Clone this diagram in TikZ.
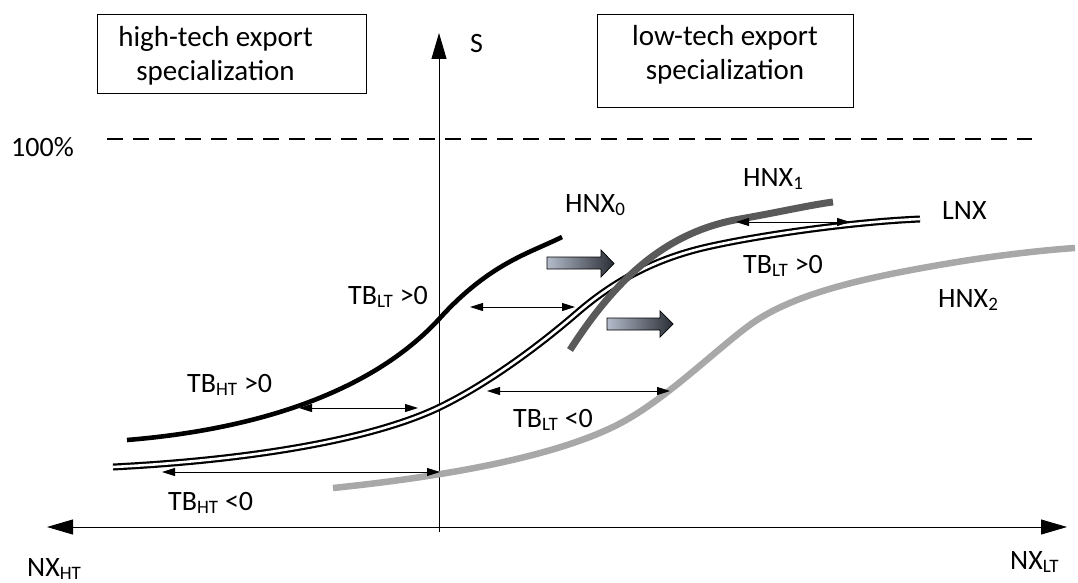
\documentclass[tikz,border=0pt]{standalone}
\usepackage{fontspec}
\setmainfont{Carlito}
\usetikzlibrary{arrows.meta}
\definecolor{darkg}{HTML}{5A5A5A}
\definecolor{lightg}{HTML}{A8A8A8}
\definecolor{arrdark}{HTML}{2A2E36}
\definecolor{arrlight}{HTML}{B4BCCB}
\tikzset{
  lbl/.style={font=\fontsize{28}{32}\selectfont, inner sep=0pt, anchor=base west},
  boxtext/.style={font=\fontsize{29}{34}\selectfont, align=center, inner sep=0pt},
  boxrect/.style={draw, line width=0.8pt},
  twoway/.style={line width=0.9pt, {Triangle[length=13pt,width=8pt]}-{Triangle[length=13pt,width=8pt]}},
  axis/.style={line width=0.9pt},
  axtip/.tip={Triangle[length=26pt,width=15pt]},
  blockarrow/.style={draw=black, line width=0.7pt, left color=arrlight, right color=arrdark},
  curve/.style={line cap=butt, line join=round},
}
\newcommand{\sub}[1]{\textsubscript{\fontsize{19}{20}\selectfont #1}}
\begin{document}
\begin{tikzpicture}[x=1pt,y=-1pt]
\useasboundingbox (0,0) rectangle (1078,583);
% boxes
\node[boxrect, minimum width=269pt, minimum height=79pt] (hbox) at (231.5,53.5) {};
\node[boxtext] (htext) at (215.5,56) {high-tech export\\specialization};
\node[boxrect, minimum width=256pt, minimum height=93pt] (lbox) at (725,60.5) {};
\node[boxtext] (ltext) at (725,55) {low-tech export\\specialization};
% axes
\coordinate (ytop) at (439,33);
\coordinate (ybot) at (439,532);
\coordinate (xl) at (47,527);
\coordinate (xr) at (1067,527);
\draw[axis, -{axtip}] (ybot) -- (ytop);
\draw[axis, {axtip}-{axtip}] (xl) -- (xr);
\node[lbl] (S) at (470,53) {S};
\node[lbl] (nxht) at (27,576) {NX\sub{HT}};
\node[lbl] (nxlt) at (1010,569) {NX\sub{LT}};
% dashed 100%
\coordinate (d1) at (107,139);
\coordinate (d2) at (1032,139);
\draw[line width=1.8pt, dash pattern=on 16pt off 10pt] (d1) -- (d2);
\node[lbl] (pct) at (11,157) {100\%};
% HNX2 light gray
\draw[curve, lightg, line width=6.5pt] (333,488) .. controls (420,479) and (540,462) .. (613,427)
  .. controls (660,404.5) and (710,355) .. (747,327)
  .. controls (790,294.5) and (860,278) .. (957,262)
  .. controls (1000,255) and (1045,250) .. (1075,248);
% LNX double line
\draw[curve, line width=2.2pt, double=white, double distance=2.6pt] (113,467) .. controls (250,460) and (370,440) .. (438,408)
  .. controls (488,384) and (540,345) .. (577,313)
  .. controls (610,284.5) and (650,260) .. (707,247)
  .. controls (757,235.6) and (850,222) .. (920,219);
% HNX1 dark gray
\draw[curve, darkg, line width=7pt] (570,350) .. controls (615,280) and (665,232) .. (740,219)
  .. controls (780,212) and (810,205) .. (833,202);
% HNX0 black
\draw[curve, black, line width=4.6pt] (127,440) .. controls (250,430) and (370,395) .. (440,318)
  .. controls (490,263) and (530,253) .. (562,237);
% block arrows
\draw[blockarrow] (547,257) -- (601,257) -- (601,250) -- (614,263.5) -- (601,277) -- (601,269) -- (547,269) -- cycle;
\draw[blockarrow] (607,318) -- (660,318) -- (660,311) -- (673,324) -- (660,337) -- (660,330) -- (607,330) -- cycle;
% two-way arrows
\coordinate (a1l) at (299,408); \coordinate (a1r) at (418,408);
\coordinate (a2l) at (162,472); \coordinate (a2r) at (440,472);
\coordinate (a3l) at (470,307); \coordinate (a3r) at (575,307);
\coordinate (a4l) at (487,391); \coordinate (a4r) at (670,391);
\coordinate (a5l) at (736,222); \coordinate (a5r) at (850,222);
\draw[twoway] (a1l) -- (a1r);
\draw[twoway] (a2l) -- (a2r);
\draw[twoway] (a3l) -- (a3r);
\draw[twoway] (a4l) -- (a4r);
\draw[twoway] (a5l) -- (a5r);
% labels
\node[lbl] (tbltl) at (348,304) {TB\sub{LT} >0};
\node[lbl] (tbhtp) at (187,392) {TB\sub{HT} >0};
\node[lbl] (tbltn) at (513,427) {TB\sub{LT} <0};
\node[lbl] (tbhtn) at (168,510) {TB\sub{HT} <0};
\node[lbl] (tbltr) at (743,273) {TB\sub{LT} >0};
\node[lbl] (h0) at (565,212) {HNX\sub{0}};
\node[lbl] (h1) at (743,186) {HNX\sub{1}};
\node[lbl] (lnx) at (942,219) {LNX};
\node[lbl] (h2) at (938,307) {HNX\sub{2}};
\end{tikzpicture}
\end{document}
